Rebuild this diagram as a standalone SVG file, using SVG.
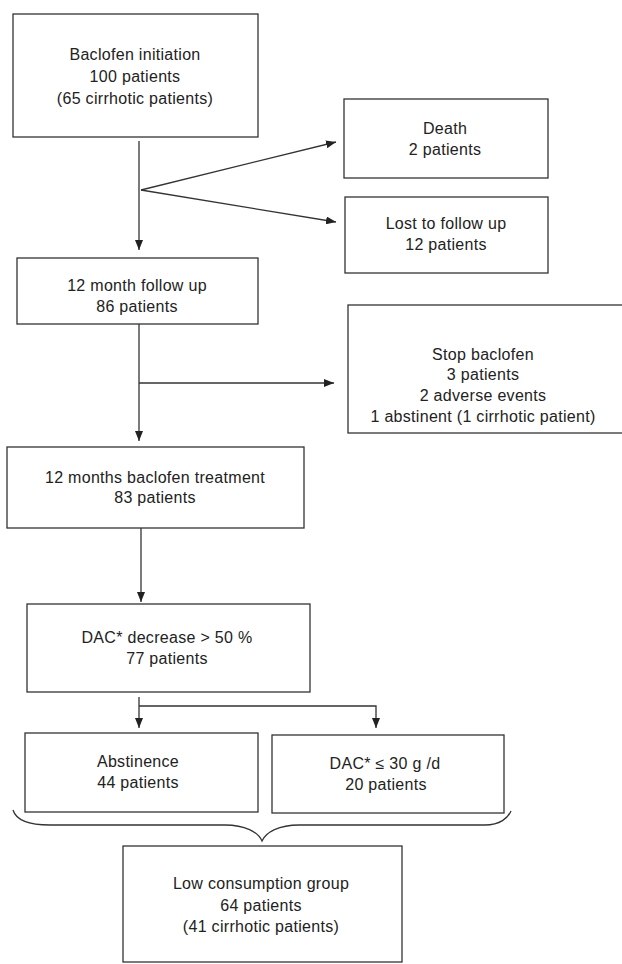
<svg xmlns="http://www.w3.org/2000/svg" width="622" height="964" viewBox="0 0 622 964">
<style>
.box{fill:#fff;stroke:#333;stroke-width:1.3}
.ln{fill:none;stroke:#333;stroke-width:1.3}
text{font-family:"Liberation Sans",Arial,sans-serif;font-size:16px;letter-spacing:0.3px;fill:#222;text-anchor:middle}
</style>
<defs>
<marker id="ah" markerUnits="userSpaceOnUse" markerWidth="10" markerHeight="8" refX="10" refY="4" orient="auto">
<path d="M0,0 L10,4 L0,8 z" fill="#222"/>
</marker>
</defs>
<rect width="622" height="964" fill="#fff"/>
<g id="connectors">
<line class="ln" x1="139" y1="141" x2="139" y2="250" marker-end="url(#ah)"/>
<line class="ln" x1="141" y1="190" x2="336" y2="142" marker-end="url(#ah)"/>
<line class="ln" x1="141" y1="190" x2="336" y2="222" marker-end="url(#ah)"/>
<line class="ln" x1="139" y1="324" x2="139" y2="441" marker-end="url(#ah)"/>
<line class="ln" x1="139" y1="383" x2="334" y2="383" marker-end="url(#ah)"/>
<line class="ln" x1="141" y1="528" x2="141" y2="602" marker-end="url(#ah)"/>
<line class="ln" x1="139" y1="697" x2="139" y2="728" marker-end="url(#ah)"/>
<polyline class="ln" points="139,706 376,706 376,728" marker-end="url(#ah)"/>
<path class="ln" d="M13,810 C16,820 30,825 50,825 L225,825 C245,825 258,832 262,841 C266,832 279,825 299,825 L485,825 C500,825 508,818 511,811"/>
</g>
<g id="n1">
<rect class="box" x="13" y="14" width="245" height="123"/>
<text x="135" y="60">Baclofen initiation</text>
<text x="135" y="82">100 patients</text>
<text x="135" y="104">(65 cirrhotic patients)</text>
</g>
<g id="n_death">
<rect class="box" x="344" y="99" width="204" height="79"/>
<text x="445" y="134">Death</text>
<text x="445" y="155">2 patients</text>
</g>
<g id="n_lost">
<rect class="box" x="345" y="197" width="203" height="76"/>
<text x="446" y="229">Lost to follow up</text>
<text x="446" y="250">12 patients</text>
</g>
<g id="n2">
<rect class="box" x="17" y="258" width="241" height="66"/>
<text x="137" y="291">12 month follow up</text>
<text x="137" y="312">86 patients</text>
</g>
<g id="n_stop">
<rect class="box" x="348" y="305" width="280" height="128"/>
<text x="483" y="360">Stop baclofen</text>
<text x="483" y="380">3 patients</text>
<text x="483" y="401">2 adverse events</text>
<text x="483" y="422">1 abstinent (1 cirrhotic patient)</text>
</g>
<g id="n3">
<rect class="box" x="7" y="447" width="297" height="81"/>
<text x="155" y="483">12 months baclofen treatment</text>
<text x="155" y="503">83 patients</text>
</g>
<g id="n4">
<rect class="box" x="27" y="604" width="283" height="88"/>
<text x="167" y="643">DAC* decrease &gt; 50 %</text>
<text x="167" y="664">77 patients</text>
</g>
<g id="n_abst">
<rect class="box" x="25" y="733" width="233" height="79"/>
<text x="138" y="767">Abstinence</text>
<text x="138" y="788">44 patients</text>
</g>
<g id="n_dac">
<rect class="box" x="272" y="735" width="232" height="78"/>
<text x="385" y="769">DAC* ≤ 30 g /d</text>
<text x="386" y="790">20 patients</text>
</g>
<g id="n_low">
<rect class="box" x="123" y="846" width="279" height="116"/>
<text x="261" y="889">Low consumption group</text>
<text x="261" y="911">64 patients</text>
<text x="261" y="932">(41 cirrhotic patients)</text>
</g>
</svg>
